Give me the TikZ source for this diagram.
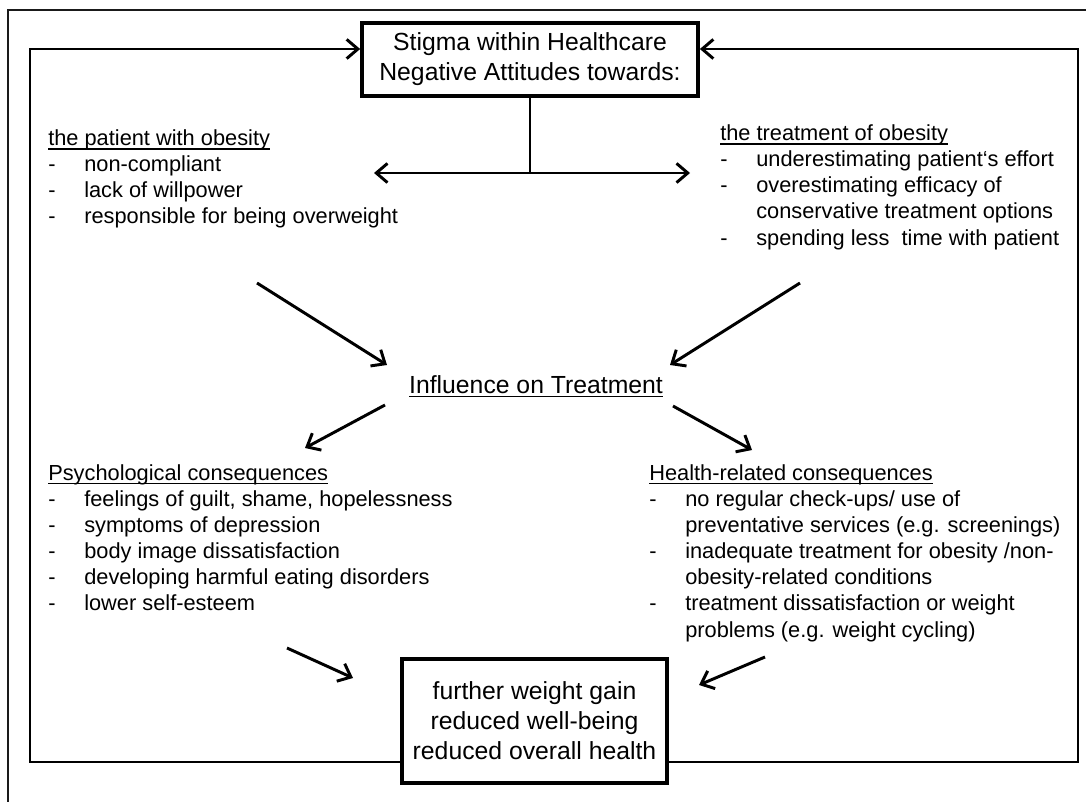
\documentclass[tikz,border=0pt]{standalone}
\usepackage{fontspec}
\setmainfont{Liberation Sans}
\usepackage{tikz}
\usetikzlibrary{arrows.meta, positioning}
\definecolor{ink}{HTML}{000000}
\definecolor{rim}{HTML}{1A1A1A}
\newcommand{\boxfont}{\fontsize{17.6}{21.3}\selectfont}
\newcommand{\listfont}{\fontsize{15.5}{18.6}\selectfont}
\newcommand{\dashit}{\makebox[25.6pt][l]{-}}
\newcommand{\indit}{\hspace*{25.6pt}}
% underline close to the baseline, through the descenders
\newcommand{\ulin}[1]{\setbox0\hbox{#1}\rlap{\rule[-2.9pt]{\wd0}{0.85pt}}\box0}
\tikzset{
  box/.style    ={draw=ink, line width=2.6pt, fill=white, align=center,
                  font=\boxfont, inner sep=0pt},
  flow/.style   ={-{Straight Barb[length=2.8mm,width=4.8mm]}, line width=2.1pt, draw=ink},
  link/.style   ={line width=2.1pt, draw=ink},
  list/.style   ={anchor=north west, align=left, inner sep=0pt, font=\listfont},
  head/.style   ={anchor=base, inner sep=0pt, font=\boxfont},
  border/.style ={line width=1.1pt, draw=rim}
}

\begin{document}
\begin{tikzpicture}[x=0.025cm, y=-0.025cm]
  \useasboundingbox (0,0) rectangle (1086,802);
  \draw[border] (1086,10) -- (8,10) -- (8,802);

  % boxes
  \node[box, minimum width=8.4cm, minimum height=1.825cm] (stigma) at (530,59.5)
       {Stigma within Healthcare\\Negative Attitudes towards:};
  \node[box, minimum width=6.625cm, minimum height=3.1cm] (outcome) at (534.5,721)
       {further weight gain\\reduced well-being\\reduced overall health};

  % attitudes
  \node[list] (patient) at (48,129.4)
       {\ulin{the patient with obesity}\\
        \dashit non-compliant\\
        \dashit lack of willpower\\
        \dashit responsible for being overweight};
  \node[list] (treat) at (720,124.4)
       {\ulin{the treatment of obesity}\\
        \dashit underestimating patient‘s effort\\
        \dashit overestimating efficacy of\\
        \indit conservative treatment options\\
        \dashit spending less\ \ time with patient};

  \node[head] (infl) at (536,393) {\ulin{Influence on Treatment}};

  % consequences
  \node[list] (psych) at (48,464)
       {\ulin{Psychological consequences}\\
        \dashit feelings of guilt, shame, hopelessness\\
        \dashit symptoms of depression\\
        \dashit body image dissatisfaction\\
        \dashit developing harmful eating disorders\\
        \dashit lower self-esteem};
  \node[list] (health) at (649,464)
       {\ulin{Health-related consequences}\\
        \dashit no regular check-ups/ use of\\
        \indit preventative services (e.g. screenings)\\
        \dashit inadequate treatment for obesity /non-\\
        \indit obesity-related conditions\\
        \dashit treatment dissatisfaction or weight\\
        \indit problems (e.g. weight cycling)};

  % split below the top box
  \coordinate (split)  at (530,173);
  \coordinate (splitL) at (374,173);
  \coordinate (splitR) at (690,173);
  \draw[link] (stigma.south) -- (split);
  \draw[flow] (split) -- (splitL);
  \draw[flow] (split) -- (splitR);

  % diagonal arrows
  \coordinate (a1s) at (257,283); \coordinate (a1e) at (387,365);
  \coordinate (a2s) at (800,283); \coordinate (a2e) at (670,365);
  \coordinate (a3s) at (385,405); \coordinate (a3e) at (305,448);
  \coordinate (a4s) at (673,406); \coordinate (a4e) at (752,450);
  \coordinate (a5s) at (287,648); \coordinate (a5e) at (353,678);
  \coordinate (a6s) at (765,657); \coordinate (a6e) at (699,685);
  \draw[flow] (a1s) -- (a1e);
  \draw[flow] (a2s) -- (a2e);
  \draw[flow] (a3s) -- (a3e);
  \draw[flow] (a4s) -- (a4e);
  \draw[flow] (a5s) -- (a5e);
  \draw[flow] (a6s) -- (a6e);

  % feedback loops
  \coordinate (loopLb) at (30,762);   \coordinate (loopLt) at (30,49);
  \coordinate (loopRb) at (1078,762); \coordinate (loopRt) at (1078,49);
  \draw[flow] (outcome.west |- loopLb) -- (loopLb) -- (loopLt) -- (stigma.west |- loopLt);
  \draw[flow] (outcome.east |- loopRb) -- (loopRb) -- (loopRt) -- (stigma.east |- loopRt);
\end{tikzpicture}
\end{document}
